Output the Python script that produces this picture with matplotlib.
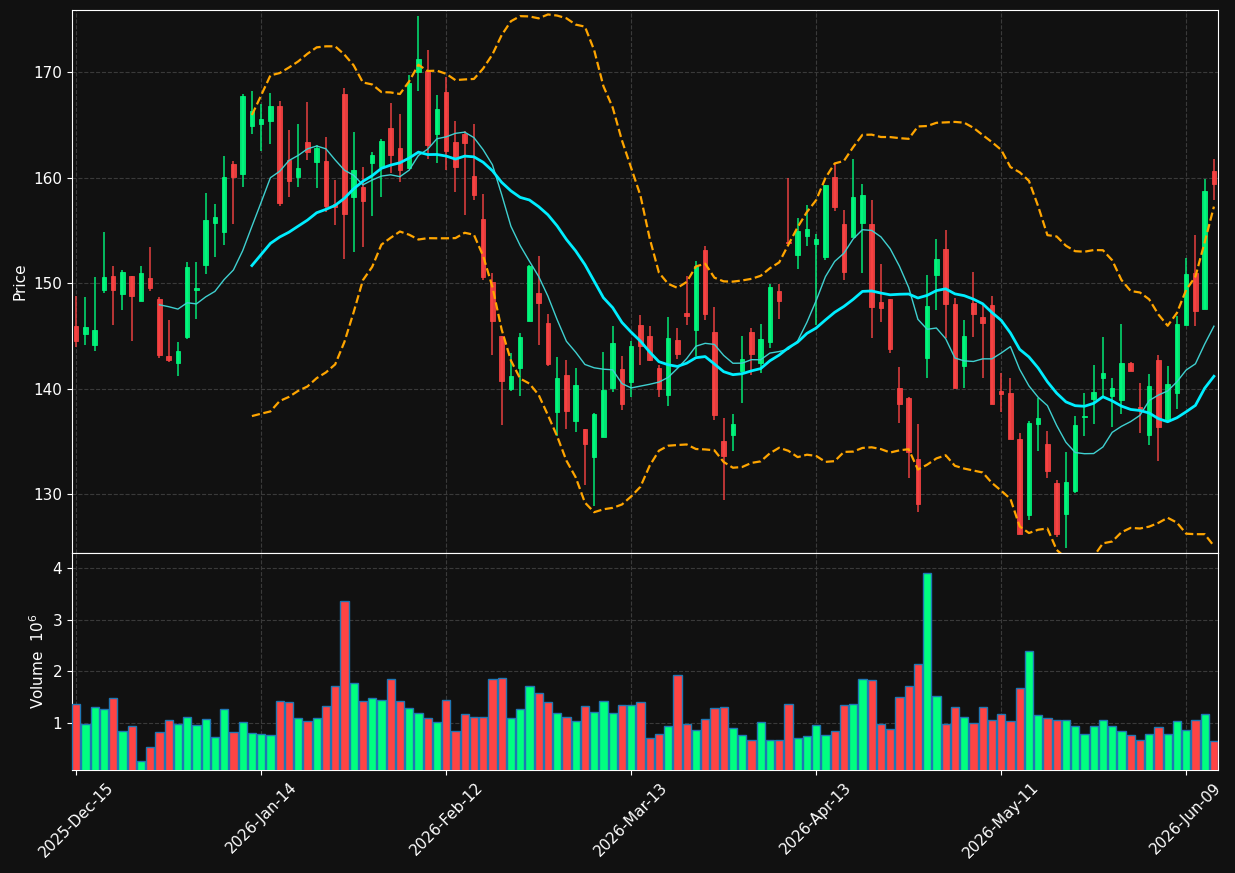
import numpy as np
import pandas as pd
import matplotlib
matplotlib.use("Agg")
import matplotlib.pyplot as plt

# OHLC (one row per trading bar)
opens = [145.96, 145.23, 144.18, 149.39, 150.71, 148.99, 150.71, 148.36, 150.51, 148.53,
         143.12, 142.46, 144.90, 149.32, 151.76, 155.75, 154.89, 161.32, 160.40, 164.95,
         165.05, 165.34, 166.83, 161.68, 160.10, 163.40, 161.52, 161.62, 157.47, 167.95,
         158.22, 159.15, 161.36, 160.99, 164.75, 162.84, 160.96, 169.99, 170.12, 164.19,
         168.15, 163.40, 164.16, 160.17, 156.11, 150.08, 145.00, 140.02, 142.00, 146.45,
         149.09, 146.22, 137.81, 141.31, 136.99, 136.20, 133.56, 135.44, 140.09, 141.87,
         140.65, 146.06, 145.00, 141.97, 139.43, 144.64, 147.18, 145.56, 153.11, 145.43,
         135.04, 135.64, 141.70, 145.40, 142.43, 144.44, 149.29, 153.90, 152.68, 154.50,
         153.77, 152.52, 160.07, 155.62, 154.40, 155.75, 155.62, 148.23, 148.53, 140.06,
         139.13, 133.33, 142.96, 150.74, 153.24, 148.03, 142.20, 148.13, 146.82, 147.94,
         139.79, 139.59, 135.24, 128.05, 136.69, 134.75, 131.06, 128.12, 130.33, 137.29,
         139.07, 141.05, 139.33, 138.97, 142.43, 138.31, 135.64, 142.69, 137.02, 139.59,
         146.06, 150.97, 147.57, 160.66]
highs = [148.83, 148.66, 150.57, 154.83, 151.60, 151.27, 150.71, 151.60, 153.41, 148.66,
         146.49, 144.41, 151.99, 151.99, 158.55, 157.50, 162.05, 161.55, 167.92, 168.21,
         167.03, 168.02, 167.29, 164.55, 165.11, 167.16, 163.14, 163.86, 159.77, 168.48,
         164.32, 161.03, 162.44, 163.70, 167.09, 166.04, 169.73, 175.33, 172.10, 167.82,
         169.50, 165.38, 164.42, 165.11, 158.45, 151.00, 145.00, 143.35, 145.33, 151.76,
         152.55, 147.05, 143.02, 142.69, 141.97, 136.20, 137.75, 143.45, 145.92, 143.12,
         144.51, 146.98, 145.92, 142.30, 146.78, 145.73, 150.67, 152.12, 153.51, 147.74,
         137.19, 137.58, 145.03, 145.73, 146.12, 149.98, 149.98, 160.00, 156.21, 157.40,
         154.66, 159.34, 161.39, 156.94, 161.75, 159.38, 157.86, 151.86, 148.53, 142.03,
         139.26, 136.63, 150.77, 154.17, 155.03, 148.63, 146.49, 151.04, 147.90, 148.79,
         141.54, 140.98, 135.77, 136.96, 139.17, 135.97, 131.35, 134.06, 137.39, 139.56,
         142.23, 144.87, 140.98, 146.12, 142.50, 140.58, 141.44, 143.22, 142.17, 146.91,
         152.39, 154.56, 159.87, 161.75]
lows = [144.01, 144.11, 143.55, 149.06, 146.02, 147.44, 144.51, 148.36, 149.29, 142.89,
        142.50, 141.18, 144.74, 146.58, 150.87, 152.45, 153.61, 155.58, 159.11, 164.12,
        162.58, 163.17, 157.37, 158.22, 159.08, 161.72, 159.05, 156.71, 155.49, 152.29,
        152.95, 153.41, 156.34, 158.16, 160.43, 159.61, 160.86, 168.21, 161.75, 161.39,
        160.76, 158.62, 156.48, 157.86, 150.31, 143.19, 136.53, 139.76, 139.33, 146.45,
        144.11, 142.13, 135.54, 136.20, 135.87, 130.92, 128.94, 135.44, 139.66, 138.01,
        139.26, 142.30, 142.63, 139.26, 138.34, 142.79, 146.06, 143.12, 146.49, 137.02,
        129.51, 134.15, 138.64, 141.28, 141.47, 143.88, 146.58, 153.70, 151.36, 153.57,
        146.09, 152.19, 156.84, 150.31, 154.40, 150.94, 144.77, 146.32, 143.35, 136.79,
        131.52, 128.29, 140.98, 147.44, 144.77, 140.09, 140.09, 144.94, 140.98, 138.57,
        137.85, 135.28, 126.24, 127.53, 134.12, 131.58, 125.98, 124.89, 130.16, 135.57,
        136.69, 139.33, 136.43, 137.58, 141.70, 135.77, 134.71, 133.13, 137.02, 138.11,
        146.06, 145.92, 147.57, 157.86]
closes = [144.57, 145.86, 145.56, 150.61, 149.39, 151.07, 148.83, 150.97, 149.58, 143.22,
          142.76, 143.58, 151.56, 149.55, 156.01, 156.28, 160.07, 160.04, 167.78, 166.33,
          165.58, 166.83, 157.63, 159.74, 160.89, 162.48, 162.81, 157.37, 157.23, 156.61,
          160.76, 157.76, 162.18, 163.50, 162.11, 160.70, 169.00, 171.28, 163.14, 166.53,
          162.58, 161.06, 163.33, 158.32, 150.64, 146.45, 140.78, 141.21, 144.90, 151.63,
          148.17, 142.36, 141.01, 137.91, 140.35, 134.78, 137.62, 139.89, 144.34, 138.57,
          144.05, 144.08, 142.73, 139.99, 144.80, 143.29, 146.91, 151.63, 147.08, 137.52,
          133.63, 136.66, 142.83, 143.29, 144.70, 149.65, 148.36, 153.80, 154.96, 155.16,
          154.20, 159.34, 157.27, 151.10, 158.19, 158.39, 147.71, 147.67, 143.78, 138.57,
          134.06, 129.11, 147.84, 152.32, 148.07, 140.09, 145.00, 147.11, 146.25, 138.57,
          139.53, 135.28, 126.24, 136.73, 137.19, 132.21, 126.21, 131.15, 136.56, 137.45,
          139.69, 141.51, 140.06, 142.43, 141.70, 138.11, 140.25, 136.36, 140.42, 146.12,
          150.87, 147.38, 158.75, 159.38]
# volume in millions
volume = [1.37, 0.99, 1.31, 1.28, 1.48, 0.85, 0.94, 0.28, 0.54, 0.83,
          1.06, 0.99, 1.12, 0.96, 1.08, 0.73, 1.27, 0.83, 1.02, 0.81,
          0.79, 0.77, 1.43, 1.41, 1.10, 1.04, 1.10, 1.33, 1.72, 3.36,
          1.77, 1.43, 1.48, 1.45, 1.85, 1.43, 1.29, 1.19, 1.10, 1.02,
          1.45, 0.85, 1.17, 1.12, 1.12, 1.85, 1.87, 1.10, 1.27, 1.72,
          1.58, 1.41, 1.19, 1.12, 1.04, 1.33, 1.21, 1.43, 1.19, 1.35,
          1.35, 1.41, 0.71, 0.79, 0.94, 1.93, 0.99, 0.86, 1.08, 1.29,
          1.31, 0.90, 0.77, 0.67, 1.02, 0.67, 0.67, 1.37, 0.71, 0.75,
          0.96, 0.77, 0.85, 1.35, 1.37, 1.85, 1.83, 0.98, 0.88, 1.50,
          1.72, 2.14, 3.90, 1.52, 0.98, 1.31, 1.12, 1.00, 1.31, 1.06,
          1.17, 1.04, 1.68, 2.39, 1.15, 1.10, 1.06, 1.06, 0.94, 0.79,
          0.94, 1.06, 0.94, 0.85, 0.77, 0.67, 0.79, 0.92, 0.79, 1.04,
          0.86, 1.06, 1.17, 0.65]

tick_pos = [0, 20, 40, 60, 80, 100, 120]
tick_labels = ["2025-Dec-15", "2026-Jan-14", "2026-Feb-12", "2026-Mar-13",
               "2026-Apr-13", "2026-May-11", "2026-Jun-09"]

bg = "#111111"
up_c = "#00ff80"
dn_c = "#ff4444"

df = pd.DataFrame({"o": opens, "h": highs, "l": lows, "c": closes, "v": volume})
x = np.arange(len(df))
ma10 = df["c"].rolling(10).mean()
ma20 = df["c"].rolling(20).mean()
sd20 = df["c"].rolling(20).std(ddof=0)
upper = ma20 + 2 * sd20
lower = ma20 - 2 * sd20

fig = plt.figure(figsize=(12.35, 8.73), dpi=100, facecolor=bg)
ax = fig.add_axes([0.0583, 0.3666, 0.928, 0.622])
axv = fig.add_axes([0.0583, 0.118, 0.928, 0.2486], sharex=ax)

for a in (ax, axv):
    a.set_facecolor(bg)
    for s in a.spines.values():
        s.set_color("white")
    a.tick_params(colors="white", labelsize=11)
    a.grid(True, linestyle="--", color="#3a3a3a", linewidth=0.8)
    a.set_axisbelow(True)

up = df["c"] >= df["o"]
cols = np.where(up, up_c, dn_c)

# wicks + bodies
ax.vlines(x, df["l"], df["h"], colors=cols, linewidth=1.1, alpha=0.9, zorder=2)
body_lo = np.minimum(df["o"], df["c"])
body_h = np.maximum(np.abs(df["c"] - df["o"]), 0.08)
ax.bar(x, body_h, bottom=body_lo, width=0.5, color=cols, edgecolor=cols,
       linewidth=0.6, alpha=0.9, zorder=3)

ax.plot(x, ma10, color="#3fd0d0", linewidth=1.0, zorder=4)
ax.plot(x, ma20, color="#00eeff", linewidth=2.0, zorder=4)
ax.plot(x, upper, color="#ffa500", linestyle="--", linewidth=1.6, zorder=4)
ax.plot(x, lower, color="#ffa500", linestyle="--", linewidth=1.6, zorder=4)

ax.set_ylim(124.45, 175.9)
ax.set_yticks([130, 140, 150, 160, 170])
ax.set_ylabel("Price", color="white", fontsize=11)
ax.tick_params(axis="x", labelbottom=False, length=0)

axv.bar(x, df["v"], width=0.9, color=cols, edgecolor="#1f77b4", linewidth=1.0, zorder=3)
axv.set_ylim(0.097, 4.29)
axv.set_yticks([1, 2, 3, 4])
axv.set_ylabel("Volume  $10^{6}$", color="white", fontsize=11)
axv.set_xlim(-0.45, 123.45)
axv.set_xticks(tick_pos)
axv.set_xticklabels(tick_labels, rotation=45)

fig.savefig("out.png", dpi=100, facecolor=bg)
